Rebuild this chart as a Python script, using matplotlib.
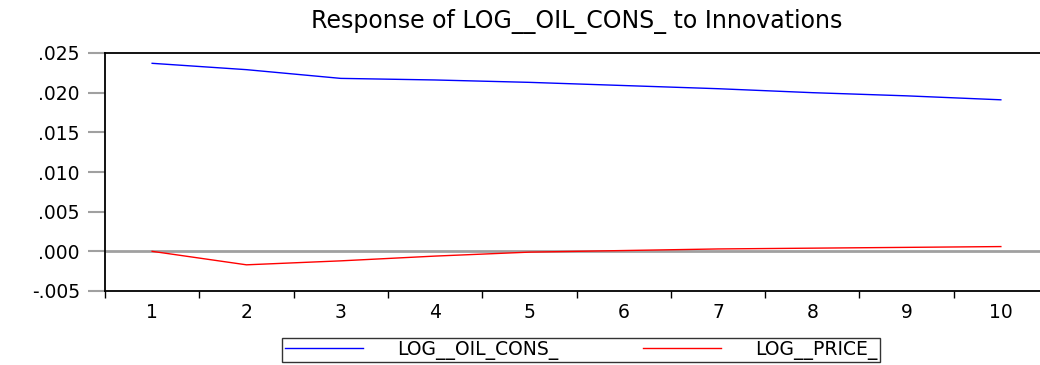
import matplotlib
matplotlib.use("Agg")
import matplotlib.pyplot as plt
from matplotlib.ticker import FuncFormatter, FixedLocator, NullFormatter

periods = [1, 2, 3, 4, 5, 6, 7, 8, 9, 10]
oil_cons = [0.0237, 0.0229, 0.0218, 0.0216, 0.0213, 0.0209, 0.0205, 0.0200, 0.0196, 0.0191]
price = [0.0, -0.0017, -0.0012, -0.0006, -0.0001, 0.0001, 0.0003, 0.0004, 0.0005, 0.0006]
series_names = ["LOG__OIL_CONS_", "LOG__PRICE_"]
yticks = [-0.005, 0.0, 0.005, 0.010, 0.015, 0.020, 0.025]

plt.rcParams['font.family'] = ['DejaVu Sans']

fig = plt.figure(figsize=(10.4, 3.65), dpi=100)
ax = fig.add_axes([105 / 1040, 74 / 365, 943 / 1040, 238 / 365])

ax.axhline(0, color='#a0a0a0', lw=2, zorder=1)
l1, = ax.plot(periods, oil_cons, color='blue', lw=1, zorder=3)
l2, = ax.plot(periods, price, color='red', lw=1, zorder=3)

ax.set_xlim(0.5, 10.5)
ax.set_ylim(-0.005, 0.025)

def fmt(v, pos):
    s = "%.3f" % v
    if s.startswith("-0"):
        return "-" + s[2:]
    return s[1:] if s.startswith("0") else s

ax.set_yticks(yticks)
ax.yaxis.set_major_formatter(FuncFormatter(fmt))
ax.tick_params(axis='y', length=12, width=1.5, color='#a0a0a0', labelsize=13.5, pad=6)

ax.xaxis.set_major_locator(FixedLocator([p - 0.5 for p in periods] + [10.5]))
ax.xaxis.set_major_formatter(NullFormatter())
ax.xaxis.set_minor_locator(FixedLocator(periods))
ax.set_xticklabels([str(p) for p in periods], minor=True)
ax.tick_params(axis='x', which='major', length=5, width=1, color='black')
ax.tick_params(axis='x', which='minor', length=0, labelsize=13.5, pad=9)

for s in ['left', 'top', 'bottom', 'right']:
    ax.spines[s].set_color('black')
    ax.spines[s].set_linewidth(1.3)

fig.text(577 / 1040, 343 / 365, "Response of LOG__OIL_CONS_ to Innovations", ha='center', va='center',
         fontsize=17)

leg = fig.legend([l1, l2], series_names, loc='center', bbox_to_anchor=(581 / 1040, 15 / 365),
                 ncol=2, frameon=True, fancybox=False, edgecolor='black', fontsize=13.5,
                 handlelength=4.2, columnspacing=4.5, borderpad=0.12, handletextpad=1.8,
                 borderaxespad=0)
leg.get_frame().set_linewidth(1)

fig.savefig("out.png", dpi=100)
